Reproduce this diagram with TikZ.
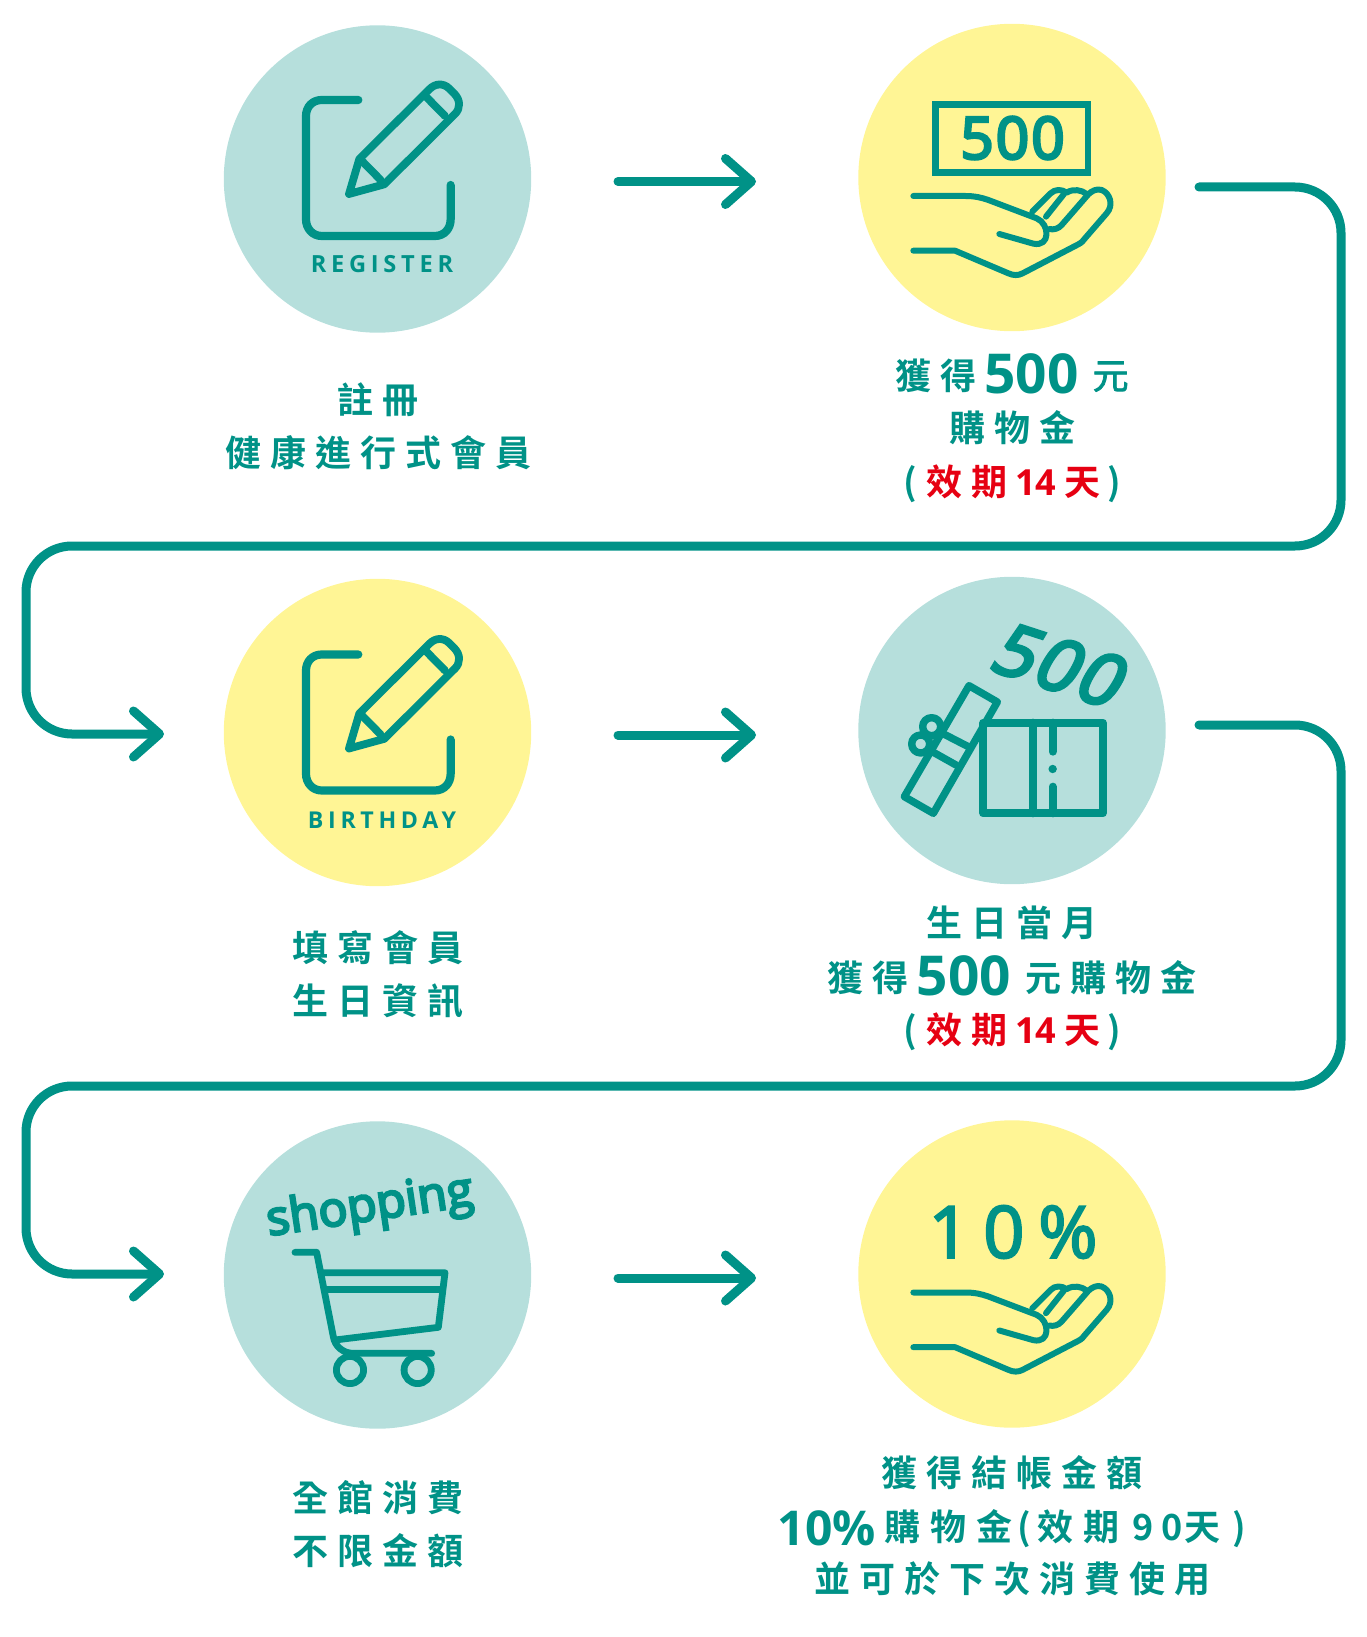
\documentclass[tikz,border=0pt]{standalone}
\usepackage{fontspec}
\usetikzlibrary{arrows.meta}
\setmainfont{Open Sans}
\newfontfamily\cjk{Noto Sans CJK TC Bold}
\newfontfamily\cjksp[LetterSpace=25]{Noto Sans CJK TC Bold}
\newfontfamily\cjkreg[LetterSpace=25,FakeBold=2]{Noto Sans CJK TC}
\newfontfamily\latb{Open Sans Bold}
\newfontfamily\latsp[LetterSpace=20]{Open Sans Bold}
\newfontfamily\latsl[FakeSlant=0.22,LetterSpace=4,FakeBold=5]{Open Sans}
\newfontfamily\latmid[FakeBold=3,LetterSpace=19]{Open Sans}
\newfontfamily\latfb[FakeBold=5]{Open Sans}
\newfontfamily\latfbw[FakeBold=5,LetterSpace=4]{Open Sans}
\definecolor{inkc}{HTML}{009287}
\definecolor{mint}{HTML}{B6DFDC}
\definecolor{lemon}{HTML}{FFF595}
\definecolor{alert}{HTML}{E60012}
\newcommand{\txl}[4]{\node[txt] (#1) at (#2,#3+13.7) {\cjksp\fontsize{18pt}{18pt}\selectfont #4};}
\newcommand{\redt}[1]{\textcolor{alert}{#1}}
\newcommand{\bigd}[2]{{\latb\fontsize{#1}{#1}\selectfont\raisebox{-2.3pt}{#2}}}
\newcommand{\smalld}[1]{{\latb\fontsize{18pt}{18pt}\selectfont #1}}
\newcommand{\pencilicon}{%
  \draw[ink,line width=4.1pt] (475,270) -- (365,270) .. controls (338,270) and (318,290) .. (318,318) -- (318,628) .. controls (318,656) and (338,678) .. (365,678) -- (705,678) .. controls (733,678) and (752,656) .. (752,628) -- (752,525);
  \draw[ink,line width=3.9pt] (447,552) -- (478,447) -- (688,238) .. controls (705,220) and (730,218) .. (748,236) -- (762,250) .. controls (782,270) and (782,295) .. (765,312) -- (553,523) -- cycle;
  \draw[ink,line width=3.9pt] (680,262) -- (735,318) (488,455) -- (542,510);
}
\newcommand{\handicon}{%
  \draw[ink,line width=3pt] (220,558) -- (375,558) .. controls (405,558) and (425,563) .. (445,570) -- (590,625) .. controls (630,642) and (632,712) .. (580,701) -- (478,672);
  \draw[ink,line width=3pt] (220,722) -- (345,722) -- (505,790) .. controls (520,797) and (535,797) .. (548,790) -- (715,703) .. controls (725,698) and (730,692) .. (735,685) -- (800,610) .. controls (822,585) and (810,550) .. (785,540) .. controls (770,535) and (755,543) .. (745,553) -- (665,645) .. controls (655,657) and (640,660) .. (628,657);
  \draw[ink,line width=3pt] (577,605) -- (632,550) .. controls (645,537) and (665,537) .. (680,548) .. controls (700,535) and (725,540) .. (740,552);
  \draw[ink,line width=3pt] (672,552) -- (618,620);
}
\tikzset{
  x=.5pt,y=-.5pt,
  ink/.style={draw=inkc,line cap=round,line join=round},
  flow/.style={draw=inkc,line width=4.5pt,line cap=round,line join=round,rounded corners=23pt,
     -{Straight Barb[length=13pt,width=23pt,line width=4.5pt,round]}},
  blob/.style={circle,inner sep=0pt,minimum size=153.7pt},
  mintblob/.style={blob,fill=mint},
  lemonblob/.style={blob,fill=lemon},
  txt/.style={inner sep=0pt,text=inkc,anchor=base},
  mid/.style={inner sep=0pt,text=inkc,anchor=center},
}
\begin{document}
\begin{tikzpicture}
\useasboundingbox (0,0) rectangle (1366,1637);
\node[mintblob] (c1) at (377.5,179) {};
\node[lemonblob] (c2) at (1012,177.5) {};
\node[lemonblob] (c3) at (377.5,732.5) {};
\node[mintblob] (c4) at (1012,730.5) {};
\node[mintblob] (c5) at (377.5,1275) {};
\node[lemonblob] (c6) at (1012,1274) {};

\coordinate (a1s) at (618,181.5); \coordinate (a1e) at (756,181.5);
\coordinate (a2s) at (618,735);   \coordinate (a2e) at (756,735);
\coordinate (a3s) at (618,1278);  \coordinate (a3e) at (756,1278);
\draw[flow] (a1s) -- (a1e);
\draw[flow] (a2s) -- (a2e);
\draw[flow] (a3s) -- (a3e);
\coordinate (b1s) at (1199,187); \coordinate (b1t) at (1341,187); \coordinate (b1u) at (1341,546); \coordinate (b1v) at (26,546); \coordinate (b1w) at (26,734); \coordinate (b1e) at (164,734);
\coordinate (b2s) at (1199,725); \coordinate (b2t) at (1341,725); \coordinate (b2u) at (1341,1086); \coordinate (b2v) at (26,1086); \coordinate (b2w) at (26,1274); \coordinate (b2e) at (164,1274);
\draw[flow] (b1s) -- (b1t) -- (b1u) -- (b1v) -- (b1w) -- (b1e);
\draw[flow] (b2s) -- (b2t) -- (b2u) -- (b2v) -- (b2w) -- (b2e);

% register icon
\begin{scope}[shift={(200,10)},x=.5pt/3,y=-.5pt/3]
\pencilicon
\end{scope}
\node[mid] (regt) at (382,264) {\latsp\fontsize{11.8pt}{11.8pt}\selectfont REGISTER};
% birthday icon
\begin{scope}[shift={(200,564.5)},x=.5pt/3,y=-.5pt/3]
\pencilicon
\end{scope}
\node[mid] (birt) at (382,820) {\latsp\fontsize{11.6pt}{11.6pt}\selectfont BIRTHDAY};

% money icon
\begin{scope}[shift={(840,10)},x=.5pt/3,y=-.5pt/3]
\draw[draw=inkc,line width=3.3pt] (287,283) rectangle (744,487);
\handicon
\end{scope}
\node[mid] (m500) at (1012.5,138) {\latfbw\fontsize{29pt}{29pt}\selectfont 500};

% gift icon
\begin{scope}[shift={(850,570)},x=.5pt/3,y=-.5pt/3]
\draw[ink,line width=4pt] (400,458) rectangle (758,730);
\draw[ink,line width=4pt] (550,458) -- (550,730) (608,458) -- (608,545) (608,650) -- (608,730);
\fill[inkc] (608,597) circle (2.1pt);
\draw[ink,line width=3.7pt] (357,347) -- (442,396) -- (250,730) -- (163,680) -- cycle;
\draw[ink,line width=3.7pt] (283,493) -- (355,530) (252,548) -- (318,585);
\draw[ink,line width=3.7pt] (245,470) circle (4.5pt) (212,522) circle (4.5pt);
\end{scope}
\node[mid,rotate=-18] (g500) at (1056,664) {\latsl\fontsize{36pt}{36pt}\selectfont 500};

% cart icon
\begin{scope}[shift={(220,1120)},x=.5pt/3,y=-.5pt/3]
\draw[ink,line width=3.4pt] (225,397) -- (290,397) -- (340,650) .. controls (345,680) and (370,700) .. (400,700) -- (635,700);
\draw[ink,line width=3.4pt] (305,458) -- (675,458) -- (655,622) -- (345,660);
\draw[ink,line width=3.4pt] (315,508) -- (665,508);
\draw[ink,line width=3.4pt] (390,750) circle (6.8pt) (593,750) circle (6.8pt);
\end{scope}
\node[mid,rotate=8.5] (shop) at (370,1208) {\latfb\fontsize{24pt}{24pt}\selectfont shopping};

% ten percent icon
\begin{scope}[shift={(840,1106.5)},x=.5pt/3,y=-.5pt/3]
\handicon
\end{scope}
\node[mid] (ten) at (1013,1232) {\latmid\fontsize{36pt}{36pt}\selectfont 10\%};

% labels
\txl{l1a}{378}{400}{註冊}
\txl{l1b}{378}{453}{健康進行式會員}
\node[txt] (l2a) at (1012,389) {\cjksp\fontsize{18pt}{18pt}\selectfont 獲得\kern4pt\bigd{27.5pt}{500}\kern7pt{\cjkreg\fontsize{18pt}{18pt}\selectfont 元}};
\txl{l2b}{1012}{428}{購物金}
\txl{l2c}{1012}{481.5}{(\kern4.6pt\redt{效期\kern4pt\smalld{14}\kern4pt天}\kern3.4pt)}
\txl{l3a}{378}{948}{填寫會員}
\txl{l3b}{378}{1000.5}{生日資訊}
\txl{l4a}{1012}{923}{生日當月}
\node[txt] (l4b) at (1012,991) {\cjksp\fontsize{18pt}{18pt}\selectfont 獲得\kern4pt\bigd{27.5pt}{500}\kern7pt 元購物金};
\txl{l4c}{1012}{1029.5}{(\kern4.6pt\redt{效期\kern4pt\smalld{14}\kern4pt天}\kern3.4pt)}
\txl{l5a}{378}{1498}{全館消費}
\txl{l5b}{378}{1551}{不限金額}
\txl{l6a}{1012}{1472.5}{獲得結帳金額}
\node[txt] (l6b) at (1012,1540.7) {\bigd{24pt}{10\%}\kern4.5pt\cjksp\fontsize{18pt}{18pt}\selectfont 購\kern5pt物\kern5pt金\kern2.5pt(\kern3pt效\kern5pt期\kern6.5pt 9\kern4pt 0\kern1pt天\kern6pt)};
\txl{l6c}{1012}{1579}{並可於下次消費使用}
\end{tikzpicture}
\end{document}
